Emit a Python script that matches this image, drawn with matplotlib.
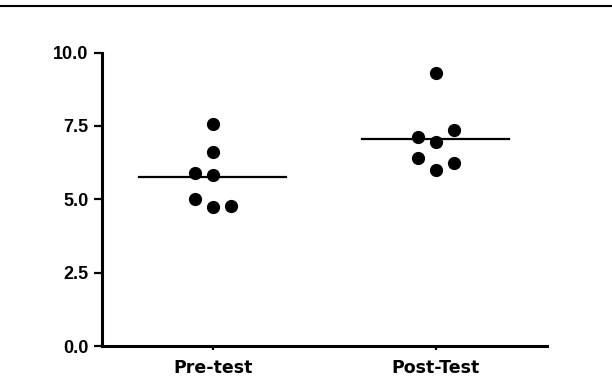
import matplotlib
matplotlib.use("Agg")
import matplotlib.pyplot as plt
from matplotlib.lines import Line2D
import numpy as np

categories = ["Pre-test", "Post-Test"]
pre_values = [7.57, 6.60, 5.91, 5.83, 5.01, 4.73, 4.77]
pre_columns = [0, 0, -1, 0, -1, 0, 1]
post_values = [9.30, 7.14, 7.36, 6.94, 6.40, 6.23, 6.00]
post_columns = [0, -1, 1, 0, -1, 1, 0]
yticks = [0.0, 2.5, 5.0, 7.5, 10.0]

plt.rcParams['font.family'] = ['Liberation Sans', 'DejaVu Sans']

fig = plt.figure(figsize=(6.12, 3.86), dpi=100)
ax = fig.add_axes([0.166, 0.1036, 0.728, 0.76])

spacing = 0.08
for i, (vals, cols) in enumerate([(pre_values, pre_columns), (post_values, post_columns)]):
    xs = [i + c * spacing for c in cols]
    ax.plot(xs, vals, 'o', color='black', markersize=8.5, linestyle='none', zorder=3)
    m = np.mean(vals)
    ax.plot([i - 0.33, i + 0.33], [m, m], color='black', lw=1.6, zorder=2)

ax.set_xlim(-0.5, 1.5)
ax.set_ylim(0, 10)
ax.set_xticks([0, 1])
ax.set_xticklabels(categories, fontsize=12.5, fontweight='bold', family=['DejaVu Sans'])
ax.set_yticks(yticks)
ax.set_yticklabels([f"{v:.1f}" for v in yticks], fontsize=13, fontweight='bold')
for s in ['top', 'right']:
    ax.spines[s].set_visible(False)
for s in ['left', 'bottom']:
    ax.spines[s].set_linewidth(2.2)
ax.tick_params(axis='y', length=6, width=1.6, pad=3.5)
ax.tick_params(axis='x', length=3, width=1.6, pad=6)

fig.add_artist(Line2D([0, 1], [1 - 5.5/386, 1 - 5.5/386], transform=fig.transFigure, color='black', lw=1.5))

fig.savefig("out.png", dpi=100)
